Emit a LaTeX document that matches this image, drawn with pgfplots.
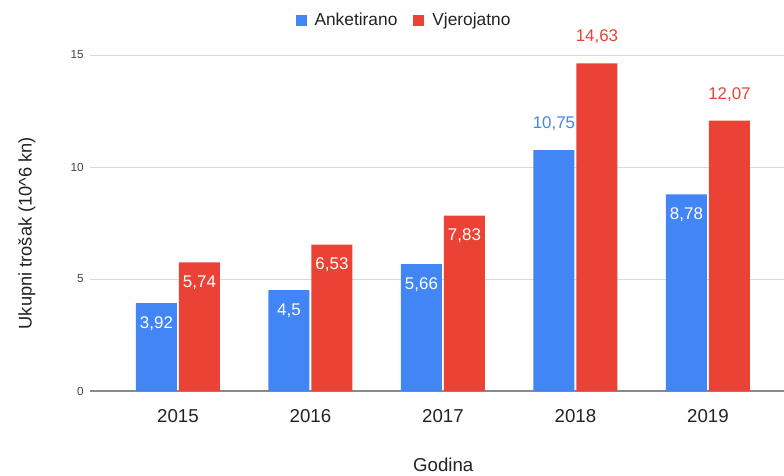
\documentclass[border=0pt]{standalone}
\usepackage{pgfplots}
\pgfplotsset{compat=1.18}
\usepackage{pgfplotstable}
\usepackage{fontspec}
\setmainfont{Liberation Sans}
\definecolor{gblue}{HTML}{4285F4}
\definecolor{gred}{HTML}{EA4335}
\definecolor{ggrid}{HTML}{D9D9D9}
\definecolor{gbase}{HTML}{8A8A8A}
\definecolor{gtext}{HTML}{222222}
\definecolor{gtick}{HTML}{444444}

\pgfplotstableread{
x y
0 3.92
1 4.5
2 5.66
3 10.75
4 8.78
}\anket
\pgfplotstableread{
x y
0 5.74
1 6.53
2 7.83
3 14.63
4 12.07
}\vjer
\pgfplotstableread{
x y lab
0 3.92 3,92
1 4.5 4,5
2 5.66 5,66
4 8.78 8,78
}\anketin
\pgfplotstableread{
x y lab
3 10.75 10,75
}\anketout
\pgfplotstableread{
x y lab
0 5.74 5,74
1 6.53 6,53
2 7.83 7,83
}\vjerin
\pgfplotstableread{
x y lab
3 14.63 14,63
4 12.07 12,07
}\vjerout

\begin{document}
\begin{tikzpicture}
\useasboundingbox (-67.5pt,-63pt) rectangle (520.5pt,293.25pt);
\begin{axis}[
  at={(0pt,0pt)}, anchor=south west,
  scale only axis, width=520.5pt, height=252pt,
  xmin=-0.664, xmax=4.574, ymin=0, ymax=15,
  clip=false,
  axis line style={draw=none},
  major tick length=0pt,
  xtick={0,1,2,3,4}, xticklabels={2015,2016,2017,2018,2019},
  ytick={0,5,10,15},
  /pgf/number format/assume math mode=true,
  ymajorgrids, grid style={ggrid, line width=0.75pt},
  extra y ticks={0}, extra y tick labels={},
  extra y tick style={grid=major, major grid style={gbase, line width=0.9pt}},
  yticklabel style={font=\fontsize{8.8}{10}\selectfont, text=gtick, anchor=east, inner sep=0pt, xshift=-4.5pt},
  xticklabel style={font=\fontsize{14}{16}\selectfont, text=gtext, anchor=base, inner sep=0pt, yshift=-23.25pt},
  ylabel={Ukupni trošak (10\textasciicircum 6 kn)},
  ylabel style={at={(axis description cs:-0.0908,0.470)}, anchor=center, rotate=0, font=\fontsize{13.7}{16}\selectfont, text=gtext},
  xlabel={Godina},
  xlabel style={at={(axis description cs:0.509,-0.220)}, anchor=center, font=\fontsize{14}{16}\selectfont, text=gtext},
  legend style={at={(axis description cs:0.451,1.104)}, anchor=center, draw=none, fill=none,
    font=\fontsize{13}{15}\selectfont, legend columns=2, inner sep=0pt,
    nodes={inner sep=0pt, text=gtext},
    /tikz/every odd column/.append style={column sep=6pt},
    /tikz/every even column/.append style={column sep=12pt}},
  sqlegend/.style={legend image code/.code={\fill[##1] (0pt,-4.125pt) rectangle (8.25pt,4.125pt);}},
  lblin/.style={draw=none, mark=none, forget plot, nodes near coords, point meta=explicit symbolic,
    nodes near coords style={anchor=base, yshift=-18.75pt, text=white, inner sep=0pt, font=\fontsize{12.7}{14}\selectfont}},
  lblout/.style={draw=none, mark=none, forget plot, nodes near coords, point meta=explicit symbolic,
    nodes near coords style={anchor=base, yshift=16.1pt, text=#1, inner sep=0pt, font=\fontsize{12.7}{14}\selectfont}},
]
\addplot[ybar, bar width=30.75pt, bar shift=-16.125pt, fill=gblue, draw=none, sqlegend] table[x=x,y=y] {\anket};
\addlegendentry{Anketirano}
\addplot[ybar, bar width=30.75pt, bar shift=16.125pt, fill=gred, draw=none, sqlegend] table[x=x,y=y] {\vjer};
\addlegendentry{Vjerojatno}
\addplot[lblin, nodes near coords style={xshift=-16.125pt}] table[x=x,y=y,meta=lab] {\anketin};
\addplot[lblin, nodes near coords style={xshift=16.125pt}] table[x=x,y=y,meta=lab] {\vjerin};
\addplot[lblout=gblue, nodes near coords style={xshift=-16.125pt}] table[x=x,y=y,meta=lab] {\anketout};
\addplot[lblout=gred, nodes near coords style={xshift=16.125pt}] table[x=x,y=y,meta=lab] {\vjerout};
\end{axis}
\end{tikzpicture}
\end{document}
